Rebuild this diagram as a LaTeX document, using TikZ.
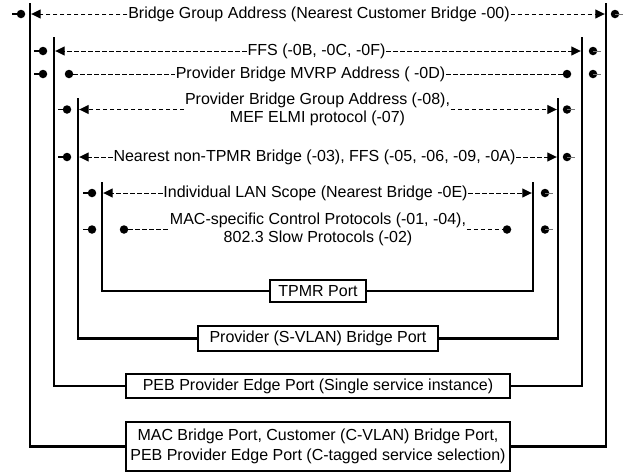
\documentclass[tikz,border=0pt]{standalone}
\usepackage{fontspec}
\setmainfont{Liberation Sans}
\usetikzlibrary{arrows.meta}
\begin{document}
\begin{tikzpicture}[x=1pt,y=-1pt,
  lbl/.style={inner sep=0.6pt, font=\fontsize{16}{18}\selectfont, align=center},
  dsh/.style={line width=1pt, dash pattern=on 4.5pt off 2.5pt},
  tip/.style={-{Triangle[length=9.5pt,width=9pt]}},
  dot/.style={circle, fill=black, inner sep=0pt, minimum size=8.5pt},
  stubl/.style={line width=1.2pt},
  stubr/.style={line width=0.8pt, black!55},
  port/.style={line width=2.3pt},
  box/.style={draw, line width=1.5pt, inner sep=0pt, font=\fontsize{16}{20.5}\selectfont, align=center}
]
\useasboundingbox (0,0) rectangle (630,472);

% port boxes
\node[box, minimum width=96pt, minimum height=22pt] (tpmr) at (318,291) {TPMR Port};
\node[box, minimum width=240pt, minimum height=25pt] (svlan) at (318,338.5) {Provider (S-VLAN) Bridge Port};
\node[box, minimum width=384pt, minimum height=24pt] (peb) at (318,386) {PEB Provider Edge Port (Single service instance)};
\node[box, minimum width=384pt, minimum height=49pt] (mac) at (318,446.5) {MAC Bridge Port, Customer (C-VLAN) Bridge Port,\\PEB Provider Edge Port (C-tagged service selection)};

% vertical port lines
\coordinate (L1) at (30,3);   \coordinate (R1) at (606,3);
\coordinate (L2) at (54,37);  \coordinate (R2) at (582,37);
\coordinate (L3) at (78,98);  \coordinate (R3) at (558,98);
\coordinate (L4) at (102,182);\coordinate (R4) at (533,182);
\draw[port] (L1) |- (mac); \draw[port] (R1) |- (mac);
\draw[port] (L2) |- (peb); \draw[port] (R2) |- (peb);
\draw[port] (L3) |- (svlan); \draw[port] (R3) |- (svlan);
\draw[port] (L4) |- (tpmr); \draw[port] (R4) |- (tpmr);

% row 1
\node[lbl] (t1) at (319,14) {Bridge Group Address (Nearest Customer Bridge -00)};
\node[dot] (o1l) at (21,14) {}; \node[dot] (o1r) at (615,14) {};
\coordinate (a1l) at (31.2,14); \coordinate (a1r) at (604.8,14);
\draw[dsh,tip] (t1) -- (a1l); \draw[dsh,tip] (t1) -- (a1r);

% row 2
\node[lbl] (t2) at (316.5,51) {FFS (-0B, -0C, -0F)};
\node[dot] (o2l) at (43,51) {}; \node[dot] (o2r) at (593,51) {};
\coordinate (a2l) at (55.2,51); \coordinate (a2r) at (580.8,51);
\draw[dsh,tip] (t2) -- (a2l); \draw[dsh,tip] (t2) -- (a2r);

% row 3
\node[lbl] (t3) at (310.5,74) {Provider Bridge MVRP Address ( -0D)};
\node[dot] (o3l) at (43,74) {}; \node[dot] (o3r) at (593,74) {};
\node[dot] (i3l) at (69,74) {}; \node[dot] (i3r) at (567,74) {};
\draw[dsh] (i3l) -- (t3); \draw[dsh] (t3) -- (i3r);

% row 4
\node[lbl] (t4) at (317.5,109.5) {Provider Bridge Group Address (-08),\\MEF ELMI protocol (-07)};
\node[dot] (o4l) at (67,109.5) {}; \node[dot] (o4r) at (567,109.5) {};
\coordinate (a4l) at (79.2,109.5); \coordinate (a4r) at (556.8,109.5);
\draw[dsh,tip] (t4) -- (a4l); \draw[dsh,tip] (t4) -- (a4r);

% row 5
\node[lbl] (t5) at (314.5,157) {Nearest non-TPMR Bridge (-03), FFS (-05, -06, -09, -0A)};
\node[dot] (o5l) at (67,157) {}; \node[dot] (o5r) at (567,157) {};
\coordinate (a5l) at (79.2,157); \coordinate (a5r) at (556.8,157);
\draw[dsh,tip] (t5) -- (a5l); \draw[dsh,tip] (t5) -- (a5r);

% row 6
\node[lbl] (t6) at (315.5,193) {Individual LAN Scope (Nearest Bridge -0E)};
\node[dot] (o6l) at (92,193) {}; \node[dot] (o6r) at (545,193) {};
\coordinate (a6l) at (103.2,193); \coordinate (a6r) at (531.8,193);
\draw[dsh,tip] (t6) -- (a6l); \draw[dsh,tip] (t6) -- (a6r);

% row 7
\node[lbl] (t7) at (318,229.5) {MAC-specific Control Protocols (-01, -04),\\802.3 Slow Protocols (-02)};
\node[dot] (o7l) at (92,229.5) {}; \node[dot] (o7r) at (545,229.5) {};
\node[dot] (i7l) at (124,229.5) {}; \node[dot] (i7r) at (507,229.5) {};
\draw[dsh] (i7l) -- (t7); \draw[dsh] (t7) -- (i7r);

% stubs on outer dots
\foreach \n in {o1l,o2l,o3l,o4l,o5l,o6l,o7l} \draw[stubl] (\n.center) -- ++(-9,0);
\foreach \n in {o1r,o2r,o3r,o4r,o5r,o6r,o7r} \draw[stubr] (\n.center) -- ++(8,0);
\end{tikzpicture}
\end{document}
